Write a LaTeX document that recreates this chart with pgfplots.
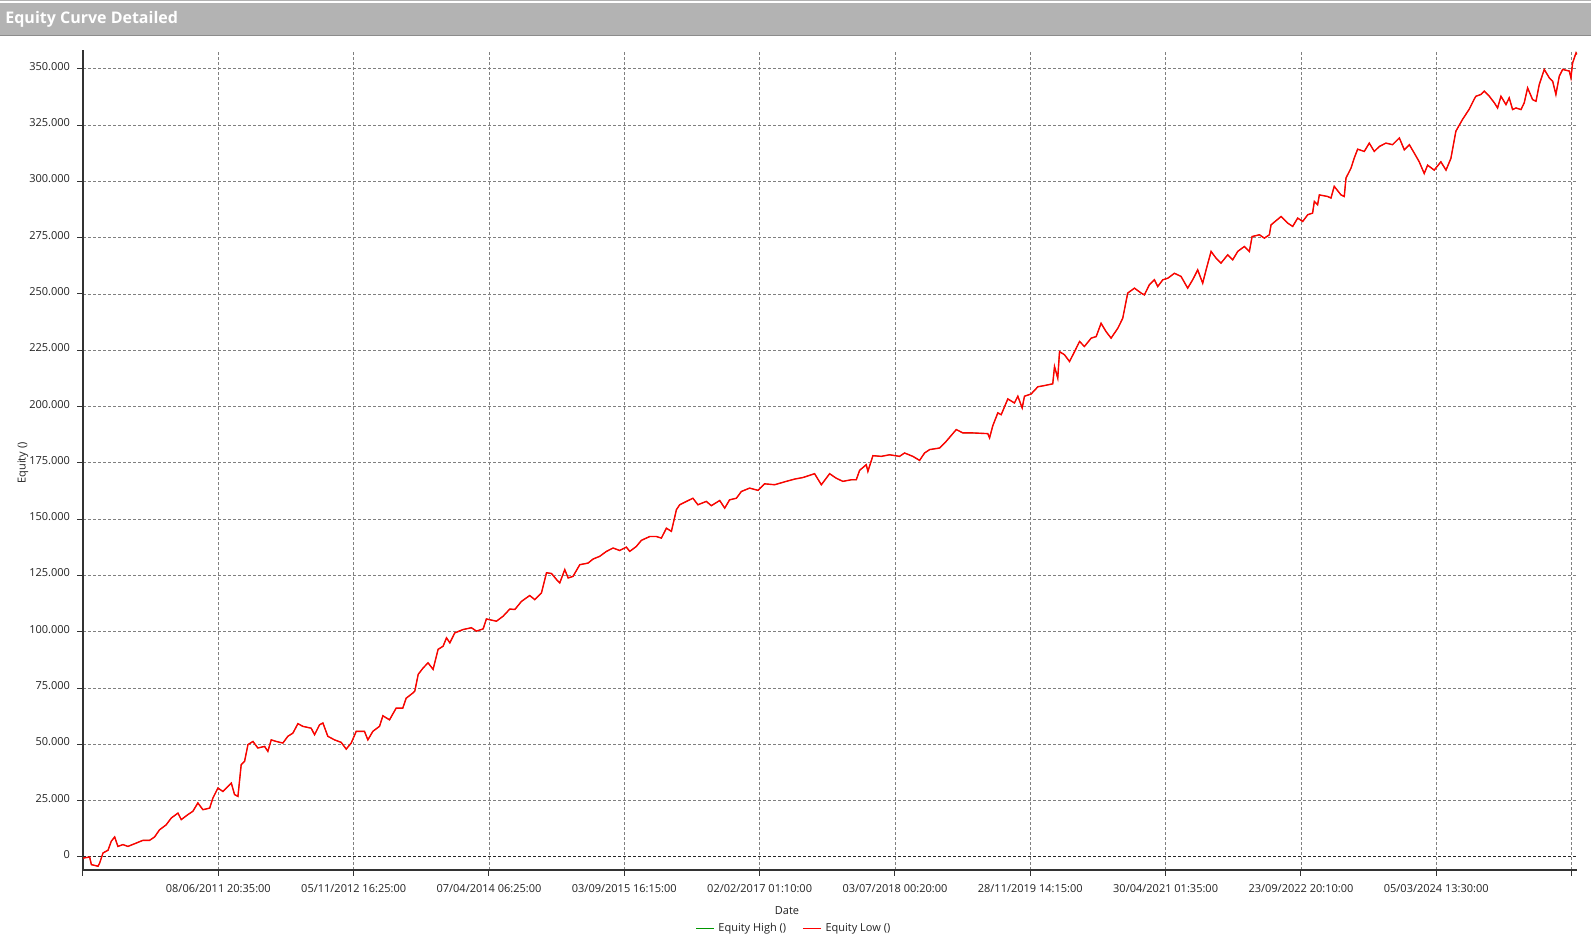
\documentclass[border=0pt]{standalone}
\usepackage{pgfplots}
\usepackage{pgfplotstable}
\pgfplotsset{compat=1.18}
\usepackage{fontspec}
\setmainfont{Open Sans}

\definecolor{titlegray}{RGB}{179,179,179}
\definecolor{gridgray}{RGB}{128,128,128}
\definecolor{eqgreen}{RGB}{0,150,0}
\definecolor{eqred}{RGB}{255,0,0}
\definecolor{txt}{RGB}{35,35,35}

% x in tick units (0 = axis start, 1 = 08/06/2011 ...), y = equity
\pgfplotstableread{
x y
0.000 -500
0.049 0
0.062 -3400
0.111 -4100
0.123 -2700
0.148 1800
0.185 3000
0.209 7000
0.234 8900
0.258 4700
0.295 5500
0.332 4700
0.394 6200
0.443 7400
0.492 7400
0.529 8900
0.566 12100
0.615 14300
0.652 17300
0.702 19500
0.726 16600
0.775 18800
0.812 20300
0.849 24000
0.886 21000
0.936 21700
0.960 26200
0.997 30600
1.034 29100
1.096 32800
1.120 27700
1.145 26900
1.169 41000
1.194 42500
1.219 49900
1.256 51300
1.292 48400
1.342 49100
1.366 46900
1.391 52000
1.428 51300
1.477 50600
1.514 53600
1.551 55000
1.588 59200
1.625 58000
1.686 57200
1.711 54300
1.748 58700
1.773 59500
1.809 53600
1.859 52000
1.908 50900
1.945 47900
1.982 50600
2.019 55800
2.080 55800
2.105 52000
2.142 55800
2.191 58000
2.216 62700
2.265 60900
2.314 66100
2.363 66100
2.388 70500
2.437 72800
2.452 73700
2.477 81100
2.514 84000
2.550 86200
2.587 83300
2.624 92200
2.661 93600
2.686 97300
2.711 95100
2.747 99500
2.809 101000
2.870 101800
2.907 100300
2.957 101300
2.981 105700
3.055 104700
3.104 106900
3.154 110100
3.191 109900
3.240 113500
3.301 116100
3.338 114300
3.388 117300
3.425 126200
3.462 125900
3.499 123200
3.523 121700
3.560 127600
3.585 123900
3.621 124600
3.671 129800
3.732 130500
3.769 132300
3.818 133500
3.868 135700
3.917 137200
3.966 136100
4.015 137600
4.040 135700
4.089 137900
4.126 140600
4.188 142300
4.237 142300
4.274 141600
4.311 146000
4.348 144600
4.385 154200
4.409 156400
4.459 157900
4.507 159300
4.544 156400
4.606 157900
4.643 156000
4.705 158300
4.742 154900
4.778 158600
4.828 159300
4.865 162300
4.926 163800
4.988 162800
5.037 165700
5.111 165300
5.197 166800
5.258 167800
5.320 168500
5.406 170200
5.456 165300
5.517 170200
5.566 168200
5.615 166800
5.677 167500
5.714 167500
5.739 171700
5.788 174200
5.800 171200
5.837 178200
5.899 177900
5.960 178600
6.034 177900
6.071 179400
6.132 177900
6.182 176100
6.219 179400
6.256 180900
6.329 181600
6.379 184600
6.453 189800
6.502 188300
6.576 188300
6.686 188000
6.699 186100
6.723 191500
6.760 197200
6.785 196400
6.834 203400
6.883 201600
6.908 204600
6.940 199400
6.957 204600
7.006 205600
7.056 208800
7.093 209200
7.166 210100
7.179 217800
7.203 212600
7.216 224400
7.253 223000
7.290 220000
7.327 224400
7.364 228900
7.400 226700
7.450 230400
7.487 231100
7.523 237000
7.560 233300
7.597 230400
7.647 234800
7.683 239200
7.720 250400
7.770 252600
7.819 250400
7.843 249600
7.880 254100
7.917 256300
7.942 253300
7.979 256300
8.016 257000
8.065 259200
8.114 257800
8.163 252600
8.200 256300
8.237 260700
8.274 254800
8.299 260700
8.336 268900
8.373 265900
8.409 263700
8.459 267400
8.496 265200
8.533 268900
8.582 271100
8.619 268900
8.639 275500
8.693 276300
8.730 274800
8.767 276300
8.779 280700
8.853 284400
8.902 281500
8.939 280000
8.976 283700
9.013 282200
9.050 285200
9.086 285900
9.099 291100
9.123 289600
9.136 294000
9.197 293300
9.222 292600
9.246 297800
9.296 294000
9.320 293300
9.333 301500
9.370 305900
9.394 310400
9.419 314300
9.468 313300
9.505 317000
9.542 313300
9.579 315500
9.628 317000
9.677 316300
9.727 319300
9.764 314000
9.801 316300
9.838 312500
9.874 308700
9.911 303500
9.936 307200
9.985 305000
10.034 308700
10.072 305000
10.108 310200
10.145 322300
10.195 327600
10.244 332100
10.281 336600
10.293 337800
10.330 338600
10.355 340100
10.392 337800
10.429 334900
10.453 332600
10.478 337800
10.515 334100
10.539 337100
10.564 331900
10.589 332600
10.626 331900
10.650 334900
10.675 341500
10.712 336300
10.737 335600
10.761 343000
10.798 349700
10.835 346000
10.860 344500
10.884 338600
10.909 346700
10.934 349700
10.983 349000
10.995 346000
11.008 352700
11.033 357100
11.040 356400
}\equity

\begin{document}
\begin{tikzpicture}
% page frame (1591 x 940 px at 0.5pt per px)
\fill[white] (0,0) rectangle (795.5pt,470pt);
\draw[gray!60, line width=0.5pt] (0,469.7pt) -- (795.5pt,469.7pt);
\fill[titlegray] (0,452pt) rectangle (795.5pt,468.5pt);
\draw[gray!90, line width=0.5pt] (0,452pt) -- (795.5pt,452pt);
\node[anchor=west, text=white, inner sep=0pt, font=\bfseries\fontsize{8}{9}\selectfont] at (2.5pt,460.3pt) {Equity Curve Detailed};

\begin{axis}[
	width=747pt, height=410pt, scale only axis,
	at={(41.5pt,35pt)}, anchor=south west,
	xmin=0, xmax=11.04,
	ymin=-5773, ymax=358350,
	axis x line=bottom, axis y line=left,
	axis line style={-, black!80, line width=0.6pt},
	xtick={0,...,11},
	xticklabels={,08/06/2011 20:35:00,05/11/2012 16:25:00,07/04/2014 06:25:00,03/09/2015 16:15:00,02/02/2017 01:10:00,03/07/2018 00:20:00,28/11/2019 14:15:00,30/04/2021 01:35:00,23/09/2022 20:10:00,05/03/2024 13:30:00,},
	ytick={25000,50000,...,350000},
	extra y ticks={0},
	extra y tick style={grid style={black!85, dash pattern=on 1.5pt off 1pt, line width=0.5pt}},
	grid=major,
	grid style={gridgray, dash pattern=on 1.5pt off 1pt, line width=0.4pt},
	tick align=outside, major tick length=3pt,
	tick style={black!80, line width=0.5pt},
	ticklabel style={font=\fontsize{5.5}{6}\selectfont, text=txt},
	scaled y ticks=false,
	yticklabel style={yshift=1.2pt, /pgf/number format/.cd, fixed, precision=0, 1000 sep={.}, assume math mode=true},
	xticklabel style={yshift=-0.5pt},
	xlabel={Date}, ylabel={Equity ()},
	label style={font=\fontsize{5.5}{6}\selectfont, text=txt},
	xlabel style={at={(axis description cs:0.4712,-0.049)}, anchor=center},
	ylabel style={at={(axis description cs:-0.0402,0.4963)}, anchor=center},
	legend style={at={(axis description cs:0.4766,-0.0715)}, anchor=center,
		draw=none, fill=none, legend columns=2,
		font=\fontsize{5.5}{6}\selectfont, text=txt,
		/tikz/every even column/.append style={column sep=6pt}},
	legend image code/.code={\draw[#1] (0pt,0pt) -- (9pt,0pt);},
	]
	\addplot[eqgreen, line width=0.35pt] table {\equity};
	\addlegendentry{Equity High ()}
	\addplot[eqred, line width=0.7pt] table {\equity};
	\addlegendentry{Equity Low ()}
\end{axis}
\pgfresetboundingbox
\path[use as bounding box] (0,0) rectangle (795.5pt,470pt);
\end{tikzpicture}
\end{document}
